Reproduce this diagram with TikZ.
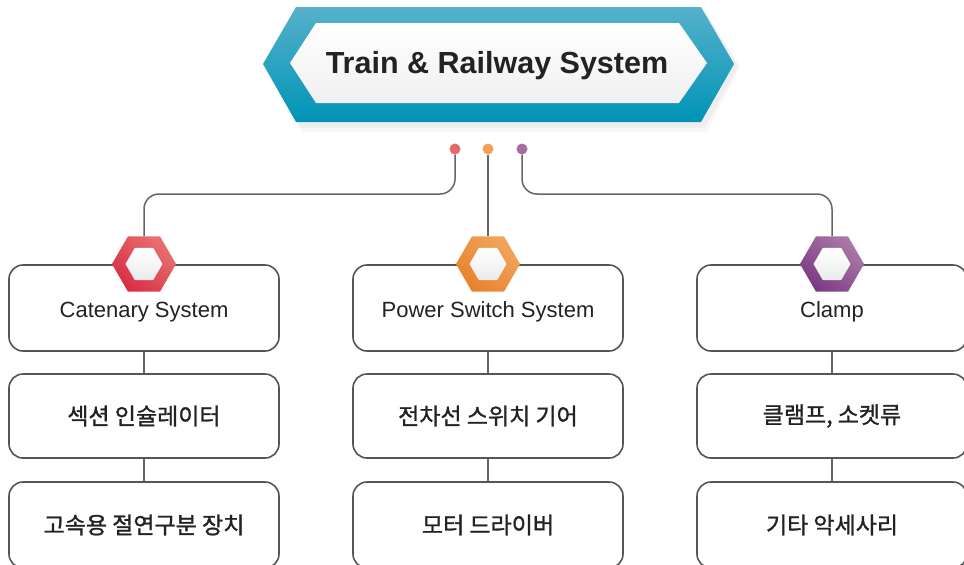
\documentclass[tikz,border=0pt]{standalone}
\usepackage{fontspec}
\setmainfont{Liberation Sans}
\newfontfamily\kr{Noto Sans CJK KR}[FakeBold=1.2]
\usetikzlibrary{shapes.geometric,shadings,calc}
\definecolor{teala}{HTML}{56B1CB}
\definecolor{tealb}{HTML}{0094B6}
\definecolor{reda}{HTML}{D51E3B}
\definecolor{redb}{HTML}{EC7F7D}
\definecolor{redm}{HTML}{E0505A}
\definecolor{orga}{HTML}{E57A20}
\definecolor{orgb}{HTML}{F3AE68}
\definecolor{orgm}{HTML}{EC9444}
\definecolor{pura}{HTML}{712B7C}
\definecolor{purb}{HTML}{B588B1}
\definecolor{purm}{HTML}{955A96}
\definecolor{dotred}{HTML}{E56A6A}
\definecolor{dotorg}{HTML}{F0A25A}
\definecolor{dotpur}{HTML}{A66E9E}
\definecolor{linegray}{HTML}{666666}
\definecolor{boxgray}{HTML}{555555}
\definecolor{txt}{HTML}{222222}
\begin{document}
\begin{tikzpicture}[x=1pt,y=-1pt,
  box/.style={rectangle, rounded corners=14pt, draw=boxgray, line width=1.6pt,
    fill=white, minimum width=270pt, inner sep=0pt, text=txt},
  engtext/.style={font=\fontsize{22}{22}\selectfont, text height=22pt, text depth=4pt},
  kortext/.style={font=\kr\fontsize{23}{24}\selectfont},
  conn/.style={draw=linegray, line width=1.5pt},
  dotnode/.style={circle, minimum size=11pt, inner sep=0pt},
  hexo/.style={regular polygon, regular polygon sides=6, minimum size=64pt, inner sep=0pt},
  hexi/.style={regular polygon, regular polygon sides=6, minimum size=37pt, inner sep=0pt,
    top color=white, bottom color=black!8},
]
\useasboundingbox (0,0) rectangle (964,565);
\clip (0,0) rectangle (964,565);
\fill[white] (0,0) rectangle (964,565);

% soft shadow under title
\fill[black, opacity=0.035] (268,66) -- (300,12) -- (705,12) -- (738,66) -- (705,128) -- (300,128) -- cycle;
\fill[black, opacity=0.03] (270,67) -- (302,14) -- (707,14) -- (740,67) -- (707,132) -- (302,132) -- cycle;
% title
\path[top color=teala, bottom color=tealb]
  (263,64) -- (296,7) -- (701,7) -- (734,64) -- (701,122) -- (296,122) -- cycle;
\path[top color=white, bottom color=black!6]
  (290,63) -- (316,23) -- (679,23) -- (707,63) -- (679,103) -- (316,103) -- cycle;
\node[font=\bfseries\fontsize{30.5}{31}\selectfont, text=txt, anchor=base] (title) at (497,73) {Train \& Railway System};

% dots
\node[dotnode, fill=dotred] (d1) at (455,149) {};
\node[dotnode, fill=dotorg] (d2) at (488,149) {};
\node[dotnode, fill=dotpur] (d3) at (522,149) {};

% boxes
\node[box, engtext, minimum height=86pt] (b11) at (144,308) {Catenary System};
\node[box, kortext, minimum height=84pt] (b21) at (144,416) {섹션 인슐레이터};
\node[box, kortext, minimum height=86pt] (b31) at (144,525) {고속용 절연구분 장치};
\node[box, engtext, minimum height=86pt] (b12) at (488,308) {Power Switch System};
\node[box, kortext, minimum height=84pt] (b22) at (488,416) {전차선 스위치 기어};
\node[box, kortext, minimum height=86pt] (b32) at (488,525) {모터 드라이버};
\node[box, engtext, minimum height=86pt] (b13) at (832,308) {Clamp};
\node[box, kortext, minimum height=84pt] (b23) at (832,416) {클램프, 소켓류};
\node[box, kortext, minimum height=86pt] (b33) at (832,525) {기타 악세사리};

% vertical connectors between boxes
\draw[conn] (b11.south) -- (b21.north);
\draw[conn] (b21.south) -- (b31.north);
\draw[conn] (b12.south) -- (b22.north);
\draw[conn] (b22.south) -- (b32.north);
\draw[conn] (b13.south) -- (b23.north);
\draw[conn] (b23.south) -- (b33.north);

% hexagon icons
\node[hexo, lower left=reda, upper right=redb, upper left=redm, lower right=redm] (h1) at (144,264) {};
\node[hexi] (i1) at (h1.center) {};
\node[hexo, lower left=orga, upper right=orgb, upper left=orgm, lower right=orgm] (h2) at (488,264) {};
\node[hexi] (i2) at (h2.center) {};
\node[hexo, lower left=pura, upper right=purb, upper left=purm, lower right=purm] (h3) at (832,264) {};
\node[hexi] (i3) at (h3.center) {};

% connectors from dots
\coordinate (ylev) at (0,194);
\draw[conn, rounded corners=15pt] (d1.south) -- (d1 |- ylev) -- (h1.north |- ylev) -- (h1.north);
\draw[conn] (d2.south) -- (h2.north);
\draw[conn, rounded corners=15pt] (d3.south) -- (d3 |- ylev) -- (h3.north |- ylev) -- (h3.north);
\end{tikzpicture}
\end{document}
